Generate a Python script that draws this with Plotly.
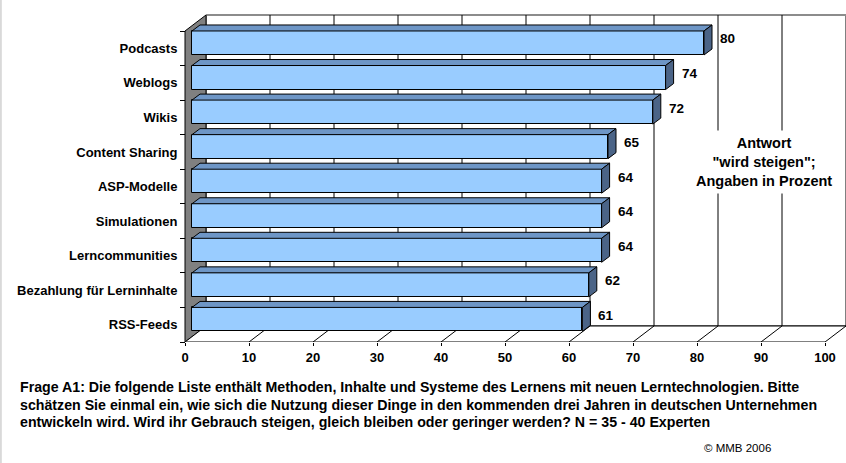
import plotly.graph_objects as go

# Survey results: share of experts expecting usage to rise (percent)
categories = [
    "Podcasts", "Weblogs", "Wikis", "Content Sharing", "ASP-Modelle",
    "Simulationen", "Lerncommunities", "Bezahlung für Lerninhalte", "RSS-Feeds",
]
values = [80, 74, 72, 65, 64, 64, 64, 62, 61]
x_ticks = [0, 10, 20, 30, 40, 50, 60, 70, 80, 90, 100]

caption_lines = [
    "Frage A1: Die folgende Liste enthält Methoden, Inhalte und Systeme des Lernens mit neuen Lerntechnologien. Bitte",
    "schätzen Sie einmal ein, wie sich die Nutzung dieser Dinge in den kommenden drei Jahren in deutschen Unternehmen",
    "entwickeln wird. Wird ihr Gebrauch steigen, gleich bleiben oder geringer werden? N = 35 - 40 Experten",
]
note_text = "Antwort<br>\"wird steigen\";<br>Angaben in Prozent"
copyright_text = "© MMB 2006"

# ---- geometry of the pseudo-3D frame ------------------------------------
W, H = 846, 463
PX_UNIT = 6.4            # pixels per percent
X0_FRONT = 185           # pixel of value 0 on the front plane
TOP_FRONT, BOT_FRONT = 31, 342
n = len(categories)
BAND = (BOT_FRONT - TOP_FRONT) / n   # pixels per category
DEPTH_X, DEPTH_Y = 21, 16            # depth of the chart box (pixels)
BAR_OFF_X, BAR_OFF_Y = 7, 5.3        # bar front face inside the box
BAR_DX, BAR_DY = 8, 6                # depth of each bar
BAR_H = 24                           # bar thickness (pixels)

FONT = "Liberation Sans"
idx = list(range(n))

# front-plane axis ranges (plot area spans full width, top of page to floor edge)
x_range = [-X0_FRONT / PX_UNIT, (W - X0_FRONT) / PX_UNIT]
y_bottom = n - 0.5
y_top = y_bottom - BOT_FRONT / BAND
y_range = [y_bottom, y_top]
# bar plane: shifted right / up by the bar offset
x2_range = [-(X0_FRONT + BAR_OFF_X) / PX_UNIT, (W - X0_FRONT - BAR_OFF_X) / PX_UNIT]
y2_range = [y_bottom + BAR_OFF_Y / BAND, y_top + BAR_OFF_Y / BAND]

DX = DEPTH_X / PX_UNIT
DY = DEPTH_Y / BAND
BDX = BAR_DX / PX_UNIT
BDY = BAR_DY / BAND
bw = BAR_H / BAND

fig = go.Figure()

fig.add_trace(go.Bar(
    x=values, y=idx, orientation="h", xaxis="x2", yaxis="y2",
    width=bw, marker=dict(color="#99CCFF", line=dict(color="black", width=1)),
    hoverinfo="skip", showlegend=False,
))

shapes = []
lo, hi = x_ticks[0], x_ticks[-1]
top_edge, bot_edge = -0.5, n - 0.5

# back wall
shapes.append(dict(type="rect", xref="x", yref="y", layer="below",
                   x0=lo + DX, x1=hi + DX, y0=top_edge - DY, y1=bot_edge - DY,
                   fillcolor="white", line=dict(color="black", width=1)))
shapes.append(dict(type="line", xref="x", yref="y", layer="below",
                   x0=lo + DX, x1=hi + DX, y0=top_edge - DY, y1=top_edge - DY,
                   line=dict(color="#8C8C8C", width=2)))
for t in x_ticks[1:-1]:
    shapes.append(dict(type="line", xref="x", yref="y", layer="below",
                       x0=t + DX, x1=t + DX, y0=top_edge - DY, y1=bot_edge - DY,
                       line=dict(color="black", width=1)))
# left wall
shapes.append(dict(type="path", xref="x", yref="y", layer="below",
                   path=f"M {lo},{top_edge} L {lo + DX},{top_edge - DY} L {lo + DX},{bot_edge - DY} L {lo},{bot_edge} Z",
                   fillcolor="#808080", line=dict(color="black", width=1)))
# floor
shapes.append(dict(type="path", xref="x", yref="y", layer="below",
                   path=f"M {lo},{bot_edge} L {hi},{bot_edge} L {hi + DX},{bot_edge - DY} L {lo + DX},{bot_edge - DY} Z",
                   fillcolor="white", line=dict(color="black", width=1)))
for t in x_ticks[1:-1]:
    shapes.append(dict(type="line", xref="x", yref="y", layer="below",
                       x0=t, x1=t + DX, y0=bot_edge, y1=bot_edge - DY,
                       line=dict(color="black", width=1)))

# top and side faces of each bar
for i, v in zip(idx, values):
    t, b = i - bw / 2, i + bw / 2
    shapes.append(dict(type="path", xref="x2", yref="y2", layer="above",
                       path=f"M 0,{t} L {v},{t} L {v + BDX},{t - BDY} L {BDX},{t - BDY} Z",
                       fillcolor="#6E96C6", line=dict(color="black", width=1)))
    shapes.append(dict(type="path", xref="x2", yref="y2", layer="above",
                       path=f"M {v},{t} L {v},{b} L {v + BDX},{b - BDY} L {v + BDX},{t - BDY} Z",
                       fillcolor="#4B6487", line=dict(color="black", width=1)))

# thin page border on the left
shapes.append(dict(type="line", xref="paper", yref="paper", x0=0.001, x1=0.001, y0=0, y1=1,
                   line=dict(color="#D9D9D9", width=2)))

annotations = []
for i, v in zip(idx, values):
    annotations.append(dict(x=v + BDX, y=i, xref="x2", yref="y2", text=f"<b>{v}</b>",
                            showarrow=False, xanchor="left", yanchor="middle",
                            xshift=6, yshift=4,
                            font=dict(family=FONT, size=13.5, color="black")))

annotations.append(dict(x=764 / W, y=1 - 162 / H, xref="paper", yref="paper",
                        text=f"<b>{note_text}</b>", showarrow=False,
                        xanchor="center", yanchor="middle", align="center",
                        bgcolor="white", borderpad=4,
                        font=dict(family=FONT, size=14.5, color="black")))

for k, line in enumerate(caption_lines):
    annotations.append(dict(x=18 / W, y=1 - (387 + 17.5 * k) / H, xref="paper", yref="paper",
                            text=f"<b>{line}</b>", showarrow=False,
                            xanchor="left", yanchor="middle", align="left",
                            font=dict(family=FONT, size=14.2, color="black")))

annotations.append(dict(x=773 / W, y=1 - 448 / H, xref="paper", yref="paper",
                        text=copyright_text, showarrow=False,
                        xanchor="right", yanchor="middle",
                        font=dict(family=FONT, size=11.5, color="black")))

fig.update_layout(
    width=W, height=H,
    margin=dict(l=0, r=0, t=0, b=0),
    paper_bgcolor="white", plot_bgcolor="rgba(0,0,0,0)",
    bargap=0,
    xaxis=dict(domain=[0, 1], range=x_range, tickvals=x_ticks,
               ticktext=[f"<b>{t}</b>" for t in x_ticks],
               ticks="outside", ticklen=3, tickcolor="black",
               showgrid=False, zeroline=False, showline=False,
               tickfont=dict(family=FONT, size=13, color="black"),
               anchor="y", fixedrange=True),
    yaxis=dict(domain=[1 - BOT_FRONT / H, 1], range=y_range,
               tickvals=idx, ticktext=[f"<b>{c}</b>" for c in categories],
               ticks="outside", ticklen=5, tickcolor="rgba(0,0,0,0)",
               minor=dict(tickvals=[k - 0.5 for k in range(n + 1)], ticks="outside",
                          ticklen=5, tickcolor="black", tickwidth=1, showgrid=False),
               showgrid=False, zeroline=False, showline=False,
               anchor="free", position=X0_FRONT / W,
               tickfont=dict(family=FONT, size=13, color="black"),
               fixedrange=True),
    xaxis2=dict(overlaying="x", anchor="y2", range=x2_range, visible=False, fixedrange=True),
    yaxis2=dict(overlaying="y", anchor="x2", range=y2_range, visible=False, fixedrange=True),
    shapes=shapes,
    annotations=annotations,
)

fig.write_html("out.html")
